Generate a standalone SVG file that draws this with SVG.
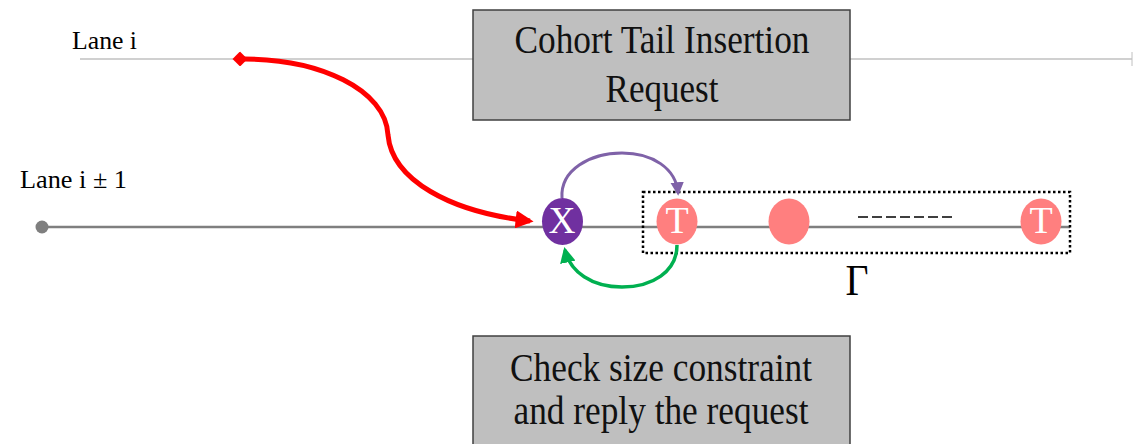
<svg xmlns="http://www.w3.org/2000/svg" width="1133" height="444" viewBox="0 0 1133 444">
  <style>
    .lbl { font-family: "Liberation Serif", "Times New Roman", serif; fill: #000; }
    .box { fill: #bfbfbf; stroke: #404040; stroke-width: 1.5; }
    .boxtxt { font-family: "Liberation Serif", "Times New Roman", serif; font-size: 39px; fill: #111; text-anchor: middle; }
    .node-t { fill: #ff7f7f; }
    .ntxt { font-family: "Liberation Serif", "Times New Roman", serif; font-size: 38px; fill: #fff; text-anchor: middle; }
  </style>
  <defs>
    <marker id="arrRed" viewBox="0 0 10 10" refX="8" refY="5" markerWidth="3.6" markerHeight="3.6" orient="auto" markerUnits="strokeWidth">
      <path d="M0,0 L10,5 L0,10 z" fill="#ff0000"/>
    </marker>
    <marker id="diaRed" viewBox="0 0 10 10" refX="5" refY="5" markerWidth="3" markerHeight="3" orient="auto" markerUnits="strokeWidth">
      <path d="M0,5 L5,0 L10,5 L5,10 z" fill="#ff0000"/>
    </marker>
    <marker id="arrPurple" viewBox="0 0 10 10" refX="8" refY="5" markerWidth="4.5" markerHeight="4.5" orient="auto" markerUnits="strokeWidth">
      <path d="M0,0 L10,5 L0,10 z" fill="#7f62a8"/>
    </marker>
    <marker id="arrGreen" viewBox="0 0 10 10" refX="8" refY="5" markerWidth="4.5" markerHeight="4.5" orient="auto" markerUnits="strokeWidth">
      <path d="M0,0 L10,5 L0,10 z" fill="#00b050"/>
    </marker>
  </defs>

  <!-- lanes -->
  <g id="lane-i">
    <line x1="80" y1="59" x2="1132" y2="59" stroke="#c0c0c0" stroke-width="1.5"/>
    <line x1="1132" y1="52" x2="1132" y2="66" stroke="#c0c0c0" stroke-width="1"/>
    <text class="lbl" x="72" y="49" font-size="26" textLength="65" lengthAdjust="spacingAndGlyphs">Lane i</text>
  </g>
  <g id="lane-i-pm-1">
    <line x1="42" y1="227" x2="1070" y2="227" stroke="#7f7f7f" stroke-width="2.5"/>
    <circle cx="42" cy="227" r="6.5" fill="#7f7f7f"/>
    <text class="lbl" x="20" y="188" font-size="26" textLength="107" lengthAdjust="spacingAndGlyphs">Lane i ± 1</text>
  </g>

  <!-- request / reply boxes -->
  <g id="request-box">
    <rect class="box" x="473" y="10" width="377" height="110"/>
    <text class="boxtxt" x="662" y="53" textLength="295" lengthAdjust="spacingAndGlyphs">Cohort Tail Insertion</text>
    <text class="boxtxt" x="662" y="102" textLength="113" lengthAdjust="spacingAndGlyphs">Request</text>
  </g>
  <g id="reply-box">
    <rect class="box" x="473" y="336" width="377" height="120"/>
    <text class="boxtxt" x="661" y="381" textLength="302" lengthAdjust="spacingAndGlyphs">Check size constraint</text>
    <text class="boxtxt" x="661" y="424" textLength="295" lengthAdjust="spacingAndGlyphs">and reply the request</text>
  </g>

  <!-- cohort set -->
  <g id="cohort">
    <rect x="643" y="192" width="427" height="61" fill="none" stroke="#000" stroke-width="2.5" stroke-dasharray="2.5,2.5"/>
    <line x1="858" y1="217" x2="952" y2="217" stroke="#000" stroke-width="1.5" stroke-dasharray="10,4"/>
    <text class="lbl" x="857" y="295" font-size="44" text-anchor="middle" textLength="23" lengthAdjust="spacingAndGlyphs">Γ</text>
  </g>

  <!-- vehicles -->
  <g id="node-x">
    <ellipse cx="562.5" cy="221.5" rx="20.5" ry="23.5" fill="#7030a0"/>
    <text class="ntxt" x="562" y="233" textLength="27" lengthAdjust="spacingAndGlyphs">X</text>
  </g>
  <g id="node-t1">
    <ellipse class="node-t" cx="677" cy="221.5" rx="20.5" ry="23"/>
    <text class="ntxt" x="677" y="233">T</text>
  </g>
  <g id="node-mid">
    <ellipse class="node-t" cx="789" cy="221.5" rx="20.5" ry="23"/>
  </g>
  <g id="node-t2">
    <ellipse class="node-t" cx="1041" cy="221.5" rx="20.5" ry="23"/>
    <text class="ntxt" x="1041" y="233">T</text>
  </g>

  <!-- connectors -->
  <g id="connectors" fill="none">
    <path d="M240,59 C320,58 386,90 388,135 C392,180 450,212 530,221" stroke="#ff0000" stroke-width="5" marker-start="url(#diaRed)" marker-end="url(#arrRed)"/>
    <path d="M562,198 C560,170 590,153 622,153 C652,153 676,168 678,193" stroke="#7f62a8" stroke-width="3" marker-end="url(#arrPurple)"/>
    <path d="M677,245 C677,272 652,287 622,287 C592,287 570,272 565,250" stroke="#00b050" stroke-width="3.5" marker-end="url(#arrGreen)"/>
  </g>
</svg>
